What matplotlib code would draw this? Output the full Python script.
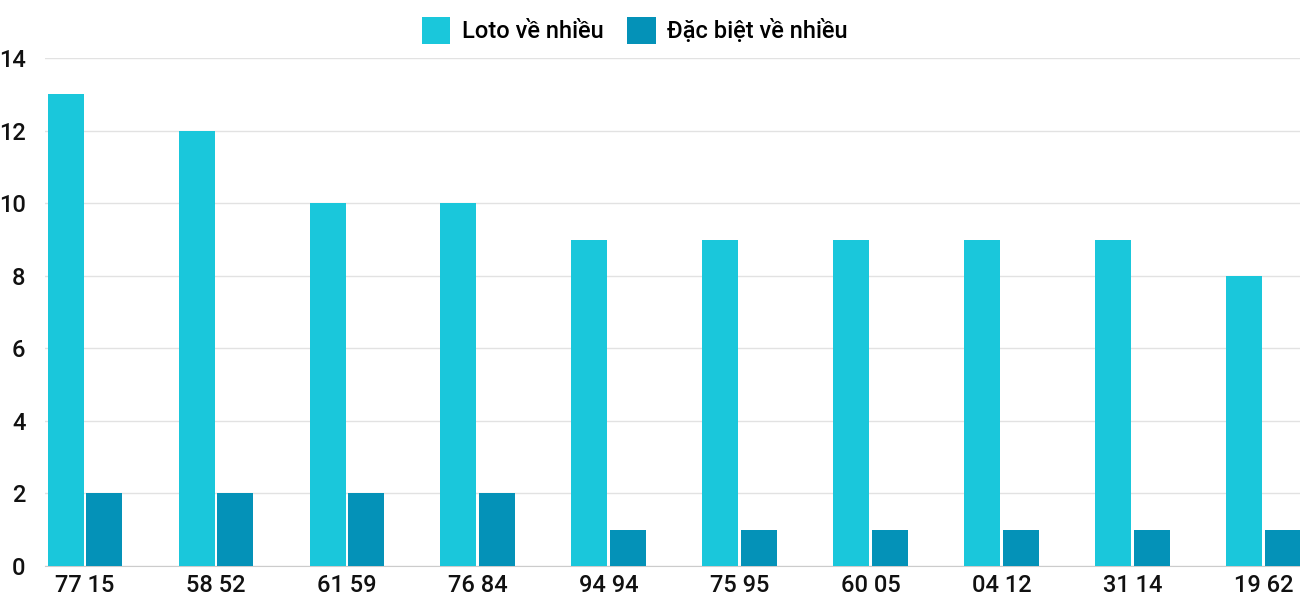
import numpy as np
from matplotlib import pyplot as plt

# data
labels = ['77 15', '58 52', '61 59', '76 84', '94 94', '75 95', '60 05', '04 12', '31 14', '19 62']
loto = [13, 12, 10, 10, 9, 9, 9, 9, 9, 8]
dacbiet = [2, 2, 2, 2, 1, 1, 1, 1, 1, 1]

plt.rcParams['font.family'] = ['Roboto', 'DejaVu Sans']
plt.rcParams['font.weight'] = 'medium'

fig = plt.figure(figsize=(13, 6), dpi=100)
ax = fig.add_axes([0.0346, 0.0567, 0.9654, 0.8463])

x = np.arange(len(labels))
w = 0.275
ax.bar(x - 0.148, loto, width=w, color='#1ac7db', label='Loto về nhiều', zorder=3)
ax.bar(x + 0.148, dacbiet, width=w, color='#0492b8', label='Đặc biệt về nhiều', zorder=3)

ax.set_xlim(-0.306, 9.28)
ax.set_ylim(0, 14)
ax.set_yticks(range(0, 15, 2))
ax.set_xticks(x)
ax.set_xticklabels(labels)
ax.tick_params(axis='both', length=0, labelsize=17, colors='#111111')
ax.tick_params(axis='y', pad=14)
ax.tick_params(axis='x', pad=6)
ax.grid(axis='y', color='#e2e2e2', linewidth=1, zorder=0)
for s in ['top', 'right', 'left']:
    ax.spines[s].set_visible(False)
ax.spines['bottom'].set_color('#cccccc')

ax.legend(loc='lower center', bbox_to_anchor=(0.47, 1.0), ncol=2, frameon=False,
          fontsize=17, handlelength=1.2, handleheight=1.4, columnspacing=1.0, handletextpad=0.5,
          borderaxespad=0.2)

plt.savefig('out.png')
